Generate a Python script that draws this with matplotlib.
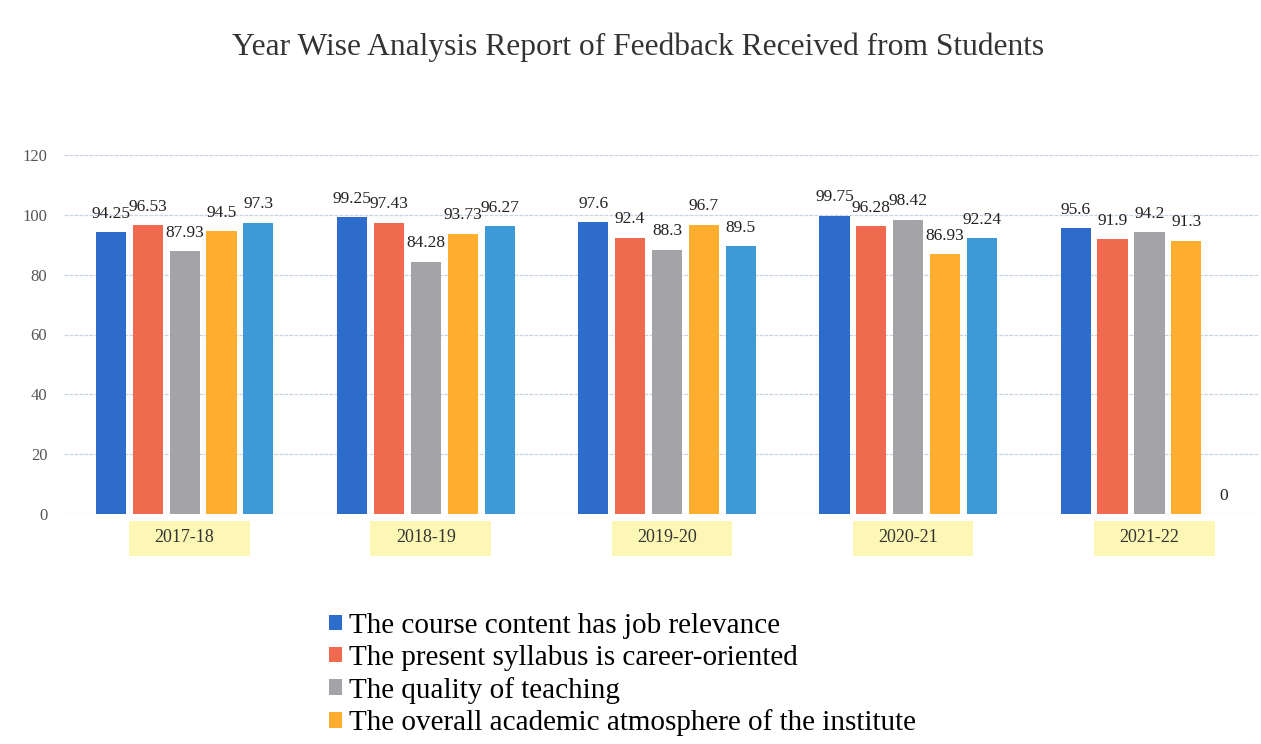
import matplotlib
matplotlib.use("Agg")
import matplotlib.pyplot as plt
from matplotlib.patches import Patch, Rectangle
import matplotlib.transforms as mtransforms
import numpy as np

plt.rcParams['font.family'] = ['Liberation Serif', 'DejaVu Serif']

years = ['2017-18', '2018-19', '2019-20', '2020-21', '2021-22']
series_names = [
    'The course content has job relevance',
    'The present syllabus is career-oriented',
    'The quality of teaching',
    'The overall academic atmosphere of the institute',
    'Series 5',
]
job_relevance = [94.25, 99.25, 97.6, 99.75, 95.6]
career_oriented = [96.53, 97.43, 92.4, 96.28, 91.9]
teaching = [87.93, 84.28, 88.3, 98.42, 94.2]
atmosphere = [94.5, 93.73, 96.7, 86.93, 91.3]
series5 = [97.3, 96.27, 89.5, 92.24, 0]

values = [job_relevance, career_oriented, teaching, atmosphere, series5]
colors = ['#2D6CCB', '#F06A4F', '#A4A4A8', '#FFAE30', '#3E9AD6']

fig = plt.figure(figsize=(12.61, 7.44), dpi=100)
ax = fig.add_axes([64 / 1261, 230 / 744, (1258 - 64) / 1261, 359 / 744])

x = np.arange(len(years))
pitch = 0.153
width = 0.125
for k, (vals, col) in enumerate(zip(values, colors)):
    pos = x + (k - 2) * pitch
    bars = ax.bar(pos, vals, width=width, color=col, zorder=3)
    for b, v in zip(bars, vals):
        ax.annotate(f'{v:g}', (b.get_x() + b.get_width() / 2, v),
                    xytext=(0, 7.5), textcoords='offset points',
                    ha='center', va='bottom', fontsize=12.5, color='#222222')

ax.set_xlim(-0.5, 4.45)
ax.set_ylim(0, 120)
ax.set_yticks(np.arange(0, 121, 20))
ax.set_xticks(x)
ax.set_xticklabels(years)
ax.tick_params(axis='x', length=0, pad=11, labelsize=13, labelcolor='#333333')
ax.tick_params(axis='y', length=0, pad=12, labelsize=12, labelcolor='#555555')
ax.yaxis.grid(True, color='#C9D4E3', linestyle=(0, (3, 1)), linewidth=0.9, zorder=0)
for s in ax.spines.values():
    s.set_visible(False)

# yellow marker highlight behind the year labels
trans = mtransforms.blended_transform_factory(ax.transData, ax.transAxes)
for xi in x:
    ax.add_patch(Rectangle((xi - 0.23, -0.117), 0.5, 0.098, transform=trans,
                           facecolor='#FCF7B4', edgecolor='none',
                           clip_on=False, zorder=0))

fig.suptitle('Year Wise Analysis Report of Feedback Received from Students',
             x=0.506, y=1 - 47 / 744, va='center', fontsize=22.7, color='#333333')

handles = [Patch(facecolor=c) for c in colors[:4]]
fig.legend(handles, series_names[:4], loc='upper left',
           bbox_to_anchor=(329 / 1261, 1 - 613 / 744), frameon=False,
           fontsize=21, handlelength=0.45, handleheight=0.45, handletextpad=0.25,
           labelspacing=0.2, borderpad=0, borderaxespad=0)

fig.savefig('out.png', dpi=100)
